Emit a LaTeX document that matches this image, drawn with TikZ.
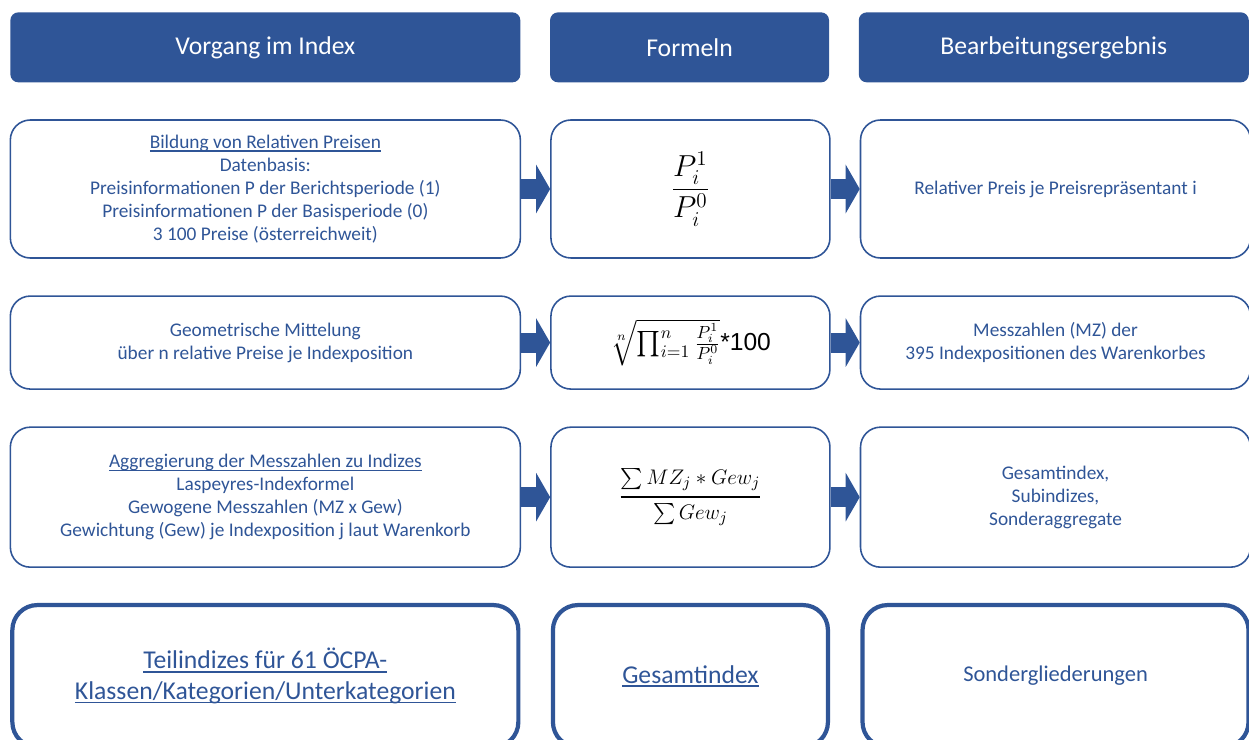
\documentclass[tikz,border=0pt]{standalone}
\usepackage{amsmath}
\usepackage{fontspec}
\setmainfont{Carlito}
\newfontfamily\arialfont{Liberation Sans}
\usepackage{tikz}
\usetikzlibrary{positioning, arrows.meta}
\definecolor{indexblue}{HTML}{2F5597}
\newcommand{\ulinetxt}[1]{\setbox0\hbox{#1}\rlap{\raisebox{-0.15em}{\rule{\wd0}{0.065em}}}\box0}

\begin{document}
\begin{tikzpicture}[node distance=0.73cm and 0.58cm,
  headbox/.style={rectangle, rounded corners=0.16cm, fill=indexblue, text=white, font=\fontsize{14.6}{17}\selectfont, minimum height=1.4cm, align=center},
  stepbox/.style={draw=indexblue, rectangle, rounded corners=0.4cm, line width=0.9pt, text=indexblue, font=\fontsize{11}{13}\selectfont, align=center},
  resultbox/.style={draw=indexblue, rectangle, rounded corners=0.5cm, line width=2.4pt, text=indexblue, align=center, minimum height=2.84cm},
  blockarrow/.style={indexblue, line width=0.4cm, -{Triangle[length=0.28cm, width=0.96cm]}}]
\useasboundingbox (0,0) rectangle (24.98,-14.78);
\clip (0,0) rectangle (24.98,-14.78);

% column heads
\node[headbox, minimum width=10.2cm, anchor=north west] (hvorgang) at (0.2,-0.24) {Vorgang im Index};
\node[headbox, minimum width=5.58cm, right=of hvorgang] (hformel) {Formeln};
\node[headbox, minimum width=7.8cm, right=of hformel] (hergebnis) {Bearbeitungsergebnis};

% relative prices
\node[stepbox, minimum width=10.2cm, minimum height=2.76cm, below=of hvorgang] (bildung) {\ulinetxt{Bildung von Relativen Preisen}\\Datenbasis:\\Preisinformationen P der Berichtsperiode (1)\\Preisinformationen P der Basisperiode (0)\\3 100 Preise (österreichweit)};
\node[stepbox, minimum width=5.58cm, minimum height=2.76cm, right=of bildung, text=black, font=\fontsize{17}{20}\selectfont] (frelativ) {$\dfrac{P_i^1}{P_i^0}$};
\node[stepbox, minimum width=7.8cm, minimum height=2.76cm, right=of frelativ] (relpreis) {Relativer Preis je Preisrepräsentant i};

% geometric mean
\node[stepbox, minimum width=10.2cm, minimum height=1.86cm, below=of bildung] (mittelung) {Geometrische Mittelung\\über n relative Preise je Indexposition};
\node[stepbox, minimum width=5.58cm, minimum height=1.86cm, right=of mittelung, text=black, font=\fontsize{14}{17}\selectfont] (fgeom) {$\sqrt[n]{\textstyle\prod_{i=1}^{n}\frac{P_i^1}{P_i^0}}${\arialfont*100}};
\node[stepbox, minimum width=7.8cm, minimum height=1.86cm, right=of fgeom] (messzahl) {Messzahlen (MZ) der\\395 Indexpositionen des Warenkorbes};

% aggregation
\node[stepbox, minimum width=10.2cm, minimum height=2.8cm, below=of mittelung] (aggreg) {\ulinetxt{Aggregierung der Messzahlen zu Indizes}\\Laspeyres-Indexformel\\Gewogene Messzahlen (MZ x Gew)\\Gewichtung (Gew) je Indexposition j laut Warenkorb};
\node[stepbox, minimum width=5.58cm, minimum height=2.8cm, right=of aggreg, text=black, font=\fontsize{12.6}{15}\selectfont] (flaspeyres) {$\genfrac{}{}{1.1pt}{0}{\textstyle\sum MZ_j * Gew_j}{\textstyle\sum Gew_j}$};
\node[stepbox, minimum width=7.8cm, minimum height=2.8cm, right=of flaspeyres] (gesamt) {Gesamtindex,\\Subindizes,\\Sonderaggregate};

% outputs
\node[resultbox, minimum width=10.12cm, below=0.7cm of aggreg, font=\fontsize{14.6}{17.6}\selectfont] (teilind) {\ulinetxt{Teilindizes für 61 ÖCPA-}\\\ulinetxt{Klassen/Kategorien/Unterkategorien}};
\node[resultbox, minimum width=5.5cm, below=0.7cm of flaspeyres, font=\fontsize{14.6}{17.6}\selectfont] (gesamtind) {\ulinetxt{Gesamtindex}};
\node[resultbox, minimum width=7.72cm, below=0.7cm of gesamt, font=\fontsize{12.8}{15}\selectfont] (sonder) {Sondergliederungen};

\draw[blockarrow] (bildung) -- (frelativ);
\draw[blockarrow] (frelativ) -- (relpreis);
\draw[blockarrow] (mittelung) -- (fgeom);
\draw[blockarrow] (fgeom) -- (messzahl);
\draw[blockarrow] (aggreg) -- (flaspeyres);
\draw[blockarrow] (flaspeyres) -- (gesamt);
\end{tikzpicture}
\end{document}
